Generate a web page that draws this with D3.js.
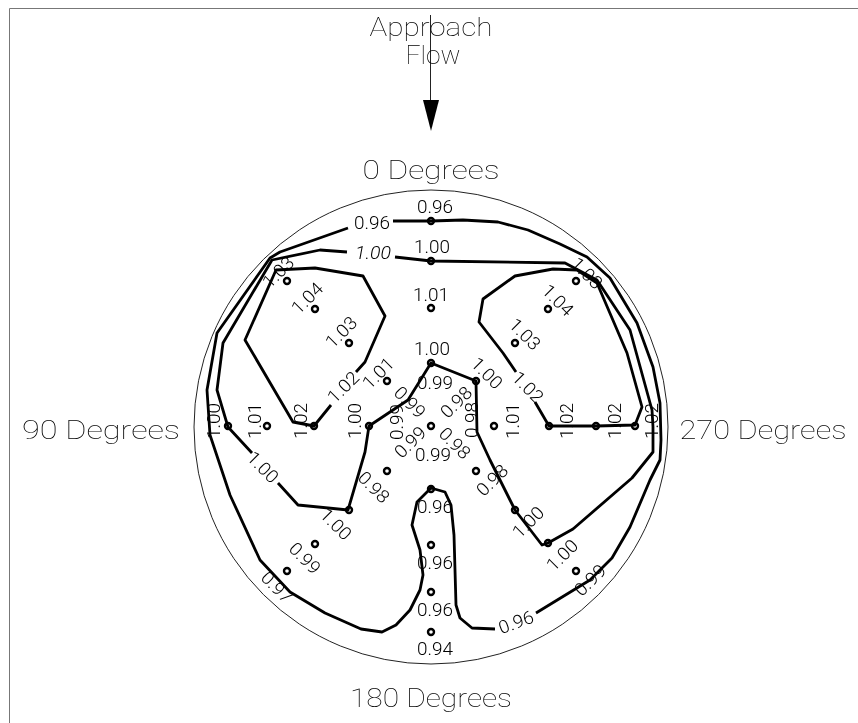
<!DOCTYPE html>
<html>
<head>
<meta charset="utf-8">
<title>Approach Flow</title>
<style>
  html, body { margin: 0; padding: 0; background: #fff; }
  svg { display: block; will-change: transform; }
  text { font-family: Roboto, "Liberation Sans", sans-serif; font-weight: 300; fill: #000; }
  text.title { font-weight: 100; }
</style>
</head>
<body>
<script src="https://cdn.jsdelivr.net/npm/d3@7"></script>
<script>
// all readings are offsets from the middle of the circle
var tapX = [0, 0, 0, 0, 45, -44, 0, -144, -116, -82, -203, -164, -117, -62, 145, 117, 84, 63, 118, 165, 204, -44, 45, -82, 84, -116, 117, -144, 145, 0, 0, 0, 0];
var tapY = [206, 166, 119, 64, 46, 46, 1, 146, 118, 84, 1, 1, 1, 1, 146, 118, 84, 1, 1, 1, 1, -44, -44, -83, -83, -117, -116, -144, -144, -62, -118, -165, -205];

var labelText = ["0.96", "1.00", "1.01", "1.00", "0.99", "0.98", "0.98", "0.98", "0.99", "0.99", "0.99", "0.99",
  "1.00", "1.01", "1.02", "1.00", "1.01", "1.02", "1.02", "1.02",
  "1.01", "1.02", "1.03", "1.04", "1.03", "1.03", "1.04", "1.03", "1.00", "1.02",
  "1.00", "1.00", "0.99", "0.97", "0.98", "0.98", "1.00", "1.00", "0.99", "0.96",
  "0.96", "0.96", "0.96", "0.94", "0.96"];
var labelX = [4, 1, 0, 1, 4, 25, 41, 24, 2, -21, -34, -21,
  -217, -176, -130, -76, 82, 136, 184, 221,
  -53, -88, -90, -124, -153, 156, 127, 94, 56, 97,
  -168, -95, -126, -154, -57, 61, 97, 131, 159, 85,
  4, 4, 4, 4, -59];
var labelY = [220, 180, 132, 78, 44, 25, 7, -16, -28, -15, 5, 25,
  6, 6, 6, 6, 6, 6, 6, 6,
  54, 40, 95, 129, 155, 154, 127, 93, 54, 40,
  -40, -97, -131, -160, -60, -53, -95, -128, -153, -195,
  -80, -136, -183, -222, 204];
var labelAngle = [0, 0, 0, 0, 0, -45, -90, 45, 0, -45, -90, 45,
  -90, -90, -90, -90, -90, -90, -90, -90,
  -45, -45, -45, -45, -45, 45, 45, 45, 45, 45,
  45, 45, 45, 45, 45, -45, -45, -45, -45, -20,
  0, 0, 0, 0, 0];

var slantedText = ["1.00"];
var slantedX = [-58];
var slantedY = [174];

var outerRight = [[-38,206],[0,206],[32,207],[67,205],[97,197],[129,183],[156,170],[179,149],[206,104],[222,60],[229,24],[230,-13],[229,-33],[219,-53],[199,-100],[181,-131],[159,-153],[105,-186]];
var outerLeft = [[64,-202],[41,-201],[29,-191],[25,-178],[24,-143],[23,-108],[20,-78],[14,-65],[0,-61],[-14,-75],[-19,-98],[-11,-123],[-8,-148],[-11,-163],[-21,-183],[-35,-198],[-49,-205],[-70,-202],[-106,-186],[-141,-165],[-171,-133],[-201,-68],[-221,-8],[-224,37],[-214,94],[-161,169],[-151,175],[-83,199]];
var middleLong = [[-36,170],[0,166],[134,164],[166,147],[199,97],[221,17],[222,0],[222,-25],[201,-51],[142,-102],[117,-116],[111,-118],[84,-83],[59,-33],[46,-5],[45,46],[0,64],[-23,27],[-62,1],[-66,-25],[-83,-83],[-133,-78],[-153,-56]];
var middleShort = [[-179,-26],[-203,0],[-214,37],[-208,84],[-159,167],[-111,177],[-84,175]];
var innerLeft = [[-75,55],[-66,65],[-46,111],[-68,151],[-116,159],[-155,157],[-186,87],[-138,5],[-117,1],[-100,22]];
var innerRight = [[85,55],[72,74],[48,105],[52,128],[84,151],[122,158],[146,157],[166,144],[196,74],[211,20],[204,2],[165,1],[118,1],[104,25]];
var contours = [outerRight, outerLeft, middleLong, middleShort, innerLeft, innerRight];

var width = 858;
var height = 723;
var radius = 237;

var x = d3.scaleLinear().domain([-radius, radius]).range([194, 668]);
var y = d3.scaleLinear().domain([-radius, radius]).range([664, 190]);

var svg = d3.select("body").append("svg")
  .attr("width", width)
  .attr("height", height);

// frame, only top and left show
svg.append("path")
  .attr("d", "M9.5," + height + "V8.5H" + width)
  .attr("fill", "none")
  .attr("stroke", "#777")
  .attr("stroke-width", 1);

svg.append("circle")
  .attr("cx", x(0))
  .attr("cy", y(0))
  .attr("r", x(radius) - x(0))
  .attr("fill", "none")
  .attr("stroke", "#222")
  .attr("stroke-width", 1);

// flow arrow
svg.append("line")
  .attr("x1", 430.5).attr("y1", 15)
  .attr("x2", 430.5).attr("y2", 101)
  .attr("stroke", "#222");
svg.append("path")
  .attr("d", "M423,100L439,100L431,131Z")
  .attr("fill", "#000");

var line = d3.line()
  .x(function(d) { return x(d[0]); })
  .y(function(d) { return y(d[1]); });

svg.selectAll("path.contour")
  .data(contours)
  .enter()
  .append("path")
  .attr("class", "contour")
  .attr("d", line)
  .attr("fill", "none")
  .attr("stroke", "#000")
  .attr("stroke-width", 2.8)
  .attr("stroke-linejoin", "round");

svg.selectAll("circle.tap")
  .data(tapX)
  .enter()
  .append("circle")
  .attr("class", "tap")
  .attr("cx", function(d) { return x(d); })
  .attr("cy", function(d, i) { return y(tapY[i]); })
  .attr("r", 3)
  .attr("fill", "none")
  .attr("stroke", "#000")
  .attr("stroke-width", 2.4);

// the drawing's lettering is wide, so the glyphs get stretched to its width
svg.selectAll("text.value")
  .data(labelText)
  .enter()
  .append("text")
  .attr("class", "value")
  .attr("text-anchor", "middle")
  .attr("dy", "0.36em")
  .attr("font-size", 18)
  .attr("textLength", 36)
  .attr("lengthAdjust", "spacingAndGlyphs")
  .attr("transform", function(d, i) {
    return "translate(" + x(labelX[i]) + "," + y(labelY[i]) + ") rotate(" + labelAngle[i] + ")";
  })
  .text(function(d) { return d; });

svg.selectAll("text.slanted")
  .data(slantedText)
  .enter()
  .append("text")
  .attr("class", "slanted")
  .attr("text-anchor", "middle")
  .attr("dy", "0.36em")
  .attr("font-size", 18)
  .attr("font-style", "italic")
  .attr("textLength", 36)
  .attr("lengthAdjust", "spacingAndGlyphs")
  .attr("x", function(d, i) { return x(slantedX[i]); })
  .attr("y", function(d, i) { return y(slantedY[i]); })
  .text(function(d) { return d; });

var titles = [
  { t: "Approach", cx: 431, cy: 27, w: 123 },
  { t: "Flow", cx: 433, cy: 55, w: 55 },
  { t: "0 Degrees", cx: 431, cy: 170, w: 137 },
  { t: "180 Degrees", cx: 431, cy: 698, w: 162 },
  { t: "90 Degrees", cx: 101, cy: 430, w: 158 },
  { t: "270 Degrees", cx: 763, cy: 430, w: 167 }
];

svg.selectAll("text.title")
  .data(titles)
  .enter()
  .append("text")
  .attr("class", "title")
  .attr("text-anchor", "middle")
  .attr("dy", "0.36em")
  .attr("font-size", 25)
  .attr("textLength", function(d) { return d.w; })
  .attr("lengthAdjust", "spacingAndGlyphs")
  .attr("x", function(d) { return d.cx; })
  .attr("y", function(d) { return d.cy; })
  .text(function(d) { return d.t; });
</script>
</body>
</html>
